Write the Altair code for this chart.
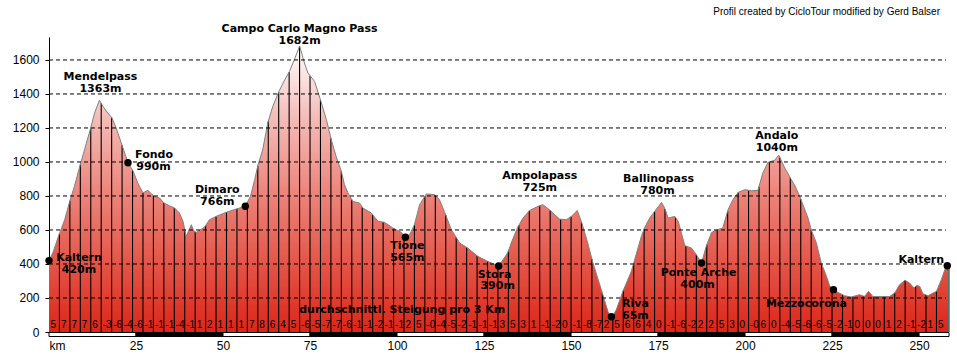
import altair as alt
import numpy as np
import pandas as pd

# ---------------- data ----------------
profile_km = [0.0, 1.1, 2.7, 4.5, 5.9, 7.3, 8.9, 10.2, 11.9, 13.1, 14.5, 15.5, 16.9, 18.1, 19.3, 21.1,
              22.7, 24.2, 25.5, 27.0, 28.4, 29.4, 30.3, 31.8, 33.0, 34.6, 36.1, 37.5, 38.5, 39.4, 40.9,
              41.5, 42.3, 44.7, 46.1, 48.0, 50.9, 53.8, 56.4, 57.9, 59.1, 60.0, 61.4, 62.9, 64.3, 66.0,
              67.5, 69.1, 70.5, 72.0, 73.4, 74.4, 76.3, 78.0, 79.7, 81.1, 82.5, 84.0, 84.9, 85.9, 87.3,
              89.2, 90.2, 92.6, 94.5, 96.4, 98.8, 101.2, 102.4, 103.6, 105.0, 106.5, 108.4, 110.8, 112.2,
              113.6, 115.6, 118.0, 120.3, 123.2, 126.1, 129.2, 131.8, 132.8, 134.7, 136.2, 138.1, 140.5,
              141.9, 143.8, 146.7, 148.6, 150.1, 151.8, 153.1, 154.8, 156.3, 158.7, 160.6, 161.6, 163.0,
              164.9, 167.3, 170.2, 171.1, 172.6, 174.0, 176.0, 176.9, 177.9, 179.8, 180.8, 182.7, 184.6,
              186.0, 187.5, 188.9, 190.4, 192.2, 193.6, 195.1, 196.5, 198.0, 199.9, 201.8, 203.7, 205.1,
              206.6, 208.5, 209.7, 211.4, 213.3, 214.2, 215.7, 218.1, 219.0, 220.5, 221.9, 223.4, 224.3,
              225.4, 226.7, 228.6, 230.5, 232.9, 234.3, 235.5, 236.7, 239.2, 241.5, 243.0, 244.4, 245.9,
              247.3, 248.5, 249.3, 250.2, 251.1, 252.6, 254.0, 255.0, 256.4, 257.4, 258.1, 258.6]
profile_elev = [420, 465, 562, 660, 765, 857, 978, 1072, 1194, 1288, 1363, 1327, 1288, 1259, 1200, 1092,
                995, 945, 876, 818, 833, 813, 798, 788, 759, 743, 729, 700, 651, 562, 631,
                598, 585, 617, 660, 680, 704, 723, 740, 798, 896, 978, 1072, 1233, 1327, 1412,
                1474, 1533, 1602, 1682, 1582, 1523, 1474, 1366, 1249, 1131, 1033, 945, 866, 818, 768,
                759, 729, 700, 651, 645, 612, 586, 557, 572, 631, 749, 812, 808, 778,
                709, 602, 523, 494, 445, 415, 388, 465, 523, 617, 670, 715, 739,
                749, 719, 664, 660, 680, 715, 641, 523, 406, 249, 121, 80, 131,
                239, 356, 562, 612, 670, 709, 762, 729, 670, 680, 651, 508, 494,
                455, 406, 508, 586, 602, 612, 719, 778, 821, 837, 831, 833, 935,
                998, 1010, 1040, 965, 896, 866, 798, 670, 602, 523, 406, 327, 272,
                249, 233, 213, 206, 219, 209, 239, 209, 209, 209, 229, 278, 304,
                288, 259, 274, 268, 225, 213, 229, 239, 308, 366, 390, 392]

place_names = ["Kaltern", "Mendelpass", "Fondo", "Dimaro", "Campo Carlo Magno Pass", "Tione", "Stora",
               "Ampolapass", "Riva", "Ballinopass", "Ponte Arche", "Andalo", "Mezzocorona", "Kaltern"]
place_heights = ["420m", "1363m", "990m", "766m", "1682m", "565m", "390m",
                 "725m", "65m", "780m", "400m", "1040m", "", ""]
place_km = [0.0, 14.5, 22.7, 56.4, 72.0, 102.4, 129.2, 141.9, 161.6, 176.0, 187.5, 209.7, 225.4, 258.1]
place_elev = [420, 1363, 995, 740, 1682, 557, 388, 749, 90, 762, 406, 1040, 249, 390]
place_dot = [True, False, True, True, False, True, True, False, True, False, True, False, True, True]

grade_text = ["5", "7", "7", "7", "6", "-3", "-6", "-4", "-6", "-1", "-1", "-1", "-4", "-1", "1", "2",
              "1", "1", "1", "7", "8", "6", "4", "5", "-6", "-5", "-7", "-7", "-6", "-1", "-1", "-2",
              "-1", "-1", "2", "5", "-0", "-4", "-5", "-2", "-1", "-1", "-1", "3", "5", "3", "1", "-1",
              "-2", "0", "-1", "-8", "-7", "2", "5", "6", "6", "4", "0", "-1", "-6", "-2", "2", "2",
              "5", "3", "0", "-0", "6", "0", "-4", "-5", "-6", "-6", "-5", "-2", "-1", "0", "0", "0",
              "1", "2", "-1", "-2", "1", "5"]
segment_len = 3

x_ticks = [0, 25, 50, 75, 100, 125, 150, 175, 200, 225, 250]
y_ticks = [0, 200, 400, 600, 800, 1000, 1200, 1400, 1600]

credit = "Profil created by CicloTour modified by Gerd Balser"
note = "durchschnittl. Steigung pro 3 Km"
note_km, note_elev = 101.5, 130

# ---------------- layout / style ----------------
W, H = 900, 295
XMAX, YMAX = 258.6, 1735
LABEL_FONT = "DejaVu Sans"
AXIS_FONT = "Liberation Sans"

# label offsets (px) for name line and height line
name_off = [(30, -2.5), (1, -23), (26, -7.5), (-28, -16), (0, -17.5), (2, 9.2), (-4, 8.5),
            (-3, -28.2), (24, -12.5), (-3, -23.2), (-3, 10.2), (-2, -18.7), (-27, 14.3), (-26, -5.3)]
height_off = [(30, 9.5), (1, -11.1), (25.5, 4.5), (-28, -3.7), (0, -5.3), (2, 21.2), (-1, 20.2),
              (-3, -16.8), (24, -0.8), (-4, -11.2), (-4, 22.2), (-2, -7.3), None, None]

xs = alt.Scale(domain=[0, XMAX], nice=False, zero=False)
ys = alt.Scale(domain=[0, YMAX], nice=False)

prof = pd.DataFrame({"km": profile_km, "elev": profile_elev})

fill = {"gradient": "linear", "x1": 0, "y1": 1, "x2": 0, "y2": 0,
        "stops": [{"offset": 0, "color": "#db2619"},
                  {"offset": 0.25, "color": "#e4574a"},
                  {"offset": 0.5, "color": "#ed877e"},
                  {"offset": 0.75, "color": "#f4bcb8"},
                  {"offset": 1, "color": "#ffffff"}]}

x_axis = alt.Axis(values=x_ticks, title=None, grid=False, domain=False, ticks=False, tickSize=0,
                  labelPadding=8, labelFontSize=12, labelFont=AXIS_FONT, labelColor="black",
                  labelOverlap=False,
                  labelExpr="datum.value == 0 ? 'km' : datum.label",
                  labelAlign={"condition": {"test": "datum.value == 0", "value": "left"}, "value": "center"})
y_axis = alt.Axis(values=y_ticks, tickCount=9, format="d", title=None, grid=False,
                  domainColor="black", domainWidth=1, tickColor="black",
                  tickSize=4, labelPadding=6, labelFontSize=12, labelFont=AXIS_FONT,
                  labelColor="black", labelOverlap=False)

area = alt.Chart(prof).mark_area(color=fill, interpolate="linear").encode(
    x=alt.X("km:Q", scale=xs, axis=x_axis),
    y=alt.Y("elev:Q", scale=ys, axis=y_axis),
)

line_km = np.arange(segment_len, profile_km[-1] - 1, segment_len)
rules_df = pd.DataFrame({"km": line_km,
                         "elev": np.interp(line_km, profile_km, profile_elev),
                         "zero": 0})
rules = alt.Chart(rules_df).mark_rule(color="black", strokeWidth=1.1).encode(
    x="km:Q", y="elev:Q", y2="zero:Q")

end_df = pd.DataFrame({"km": [profile_km[-1]], "elev": [profile_elev[-1]], "zero": [0]})
end_rule = alt.Chart(end_df).mark_rule(color="#168a86", strokeWidth=1.5).encode(
    x="km:Q", y="elev:Q", y2="zero:Q")

outline = alt.Chart(prof).mark_line(color="#808080", strokeWidth=1).encode(x="km:Q", y="elev:Q")

grid_df = pd.DataFrame({"elev": [v for v in y_ticks if v > 0]})
grid = alt.Chart(grid_df).mark_rule(color="black", strokeWidth=1, strokeDash=[4, 3]).encode(
    y="elev:Q", x=alt.value(0), x2=alt.value(W - 3))

bar_start = x_ticks
bar_end = x_ticks[1:] + [XMAX]
bar_df = pd.DataFrame({"km": bar_start, "km_end": bar_end,
                       "fill": ["white" if i % 2 == 0 else "black" for i in range(len(bar_start))]})
bar = alt.Chart(bar_df).mark_rect(stroke="black", strokeWidth=1).encode(
    x="km:Q", x2="km_end:Q", y=alt.value(H + 0.5), y2=alt.value(H + 4.5),
    color=alt.Color("fill:N", scale=None))

grade_df = pd.DataFrame({"km": np.arange(len(grade_text)) * segment_len, "t": grade_text})
grades = alt.Chart(grade_df).mark_text(align="left", baseline="middle", dx=1.5, fontSize=10,
                                       font=AXIS_FONT, color="black").encode(
    x="km:Q", y=alt.value(H - 7), text="t:N")

dots_df = pd.DataFrame({"km": [k for k, d in zip(place_km, place_dot) if d],
                        "elev": [e for e, d in zip(place_elev, place_dot) if d]})
dots = alt.Chart(dots_df).mark_circle(size=55, color="black", opacity=1).encode(x="km:Q", y="elev:Q")

layers = [area, rules, end_rule, outline, grid, bar, grades, dots]

for i, name in enumerate(place_names):
    df = pd.DataFrame({"km": [place_km[i]], "elev": [place_elev[i]],
                       "n": [name], "h": [place_heights[i]]})
    dx, dy = name_off[i]
    layers.append(alt.Chart(df).mark_text(font=LABEL_FONT, fontWeight="bold", fontSize=11,
                                          color="black", align="center", baseline="middle",
                                          dx=dx, dy=dy).encode(x="km:Q", y="elev:Q", text="n:N"))
    if place_heights[i] and height_off[i] is not None:
        dx2, dy2 = height_off[i]
        layers.append(alt.Chart(df).mark_text(font=LABEL_FONT, fontWeight="bold", fontSize=11,
                                              color="black", align="center", baseline="middle",
                                              dx=dx2, dy=dy2).encode(x="km:Q", y="elev:Q", text="h:N"))

note_df = pd.DataFrame({"km": [note_km], "elev": [note_elev], "t": [note]})
layers.append(alt.Chart(note_df).mark_text(font=LABEL_FONT, fontWeight="bold", fontSize=11,
                                           color="black", align="center", baseline="middle").encode(
    x="km:Q", y="elev:Q", text="t:N"))

credit_df = pd.DataFrame({"t": [credit]})
layers.append(alt.Chart(credit_df).mark_text(font=AXIS_FONT, fontSize=10, color="black",
                                             align="right", baseline="middle").encode(
    x=alt.value(W - 9), y=alt.value(-25), text="t:N"))

chart = alt.layer(*layers).properties(
    width=W, height=H,
    padding={"left": 49, "top": 37, "right": 8, "bottom": 23},
    autosize=alt.AutoSizeParams(type="none"),
    background="white",
).configure_view(stroke=None)

chart.save("out.html", embed_options={"renderer": "svg", "actions": False})
